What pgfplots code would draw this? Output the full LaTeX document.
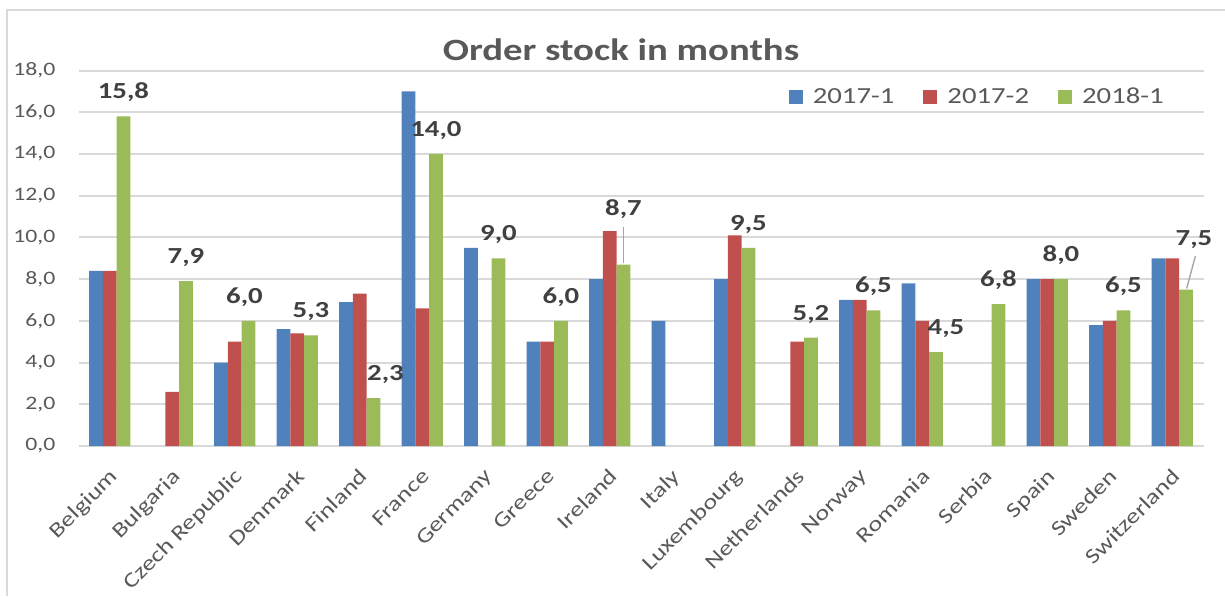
\documentclass[border=0pt]{standalone}
\usepackage{pgfplots}
\pgfplotsset{compat=1.18}
\usepackage{pgfplotstable}
\usepackage{fontspec}
\setmainfont[FakeStretch=1.25]{Carlito}
\definecolor{cblue}{HTML}{4F81BD}
\definecolor{cred}{HTML}{C0504D}
\definecolor{cgreen}{HTML}{9BBB59}
\definecolor{gridc}{HTML}{D9D9D9}
\definecolor{txt}{HTML}{595959}
\definecolor{lbl}{HTML}{404040}
\pgfplotstableread{
x a b c dx dy
0 8.4 8.4 15.8 0 0
1 nan 2.6 7.9 0 0
2 4.0 5.0 6.0 -2 0
3 5.6 5.4 5.3 0 0
4 6.9 7.3 2.3 6 0
5 17.0 6.6 14.0 0 0
6 9.5 nan 9.0 0 0
7 5.0 5.0 6.0 0 0
8 8.0 10.3 8.7 0 16
9 6.0 nan nan 0 0
10 8.0 10.1 9.5 0 0
11 nan 5.0 5.2 0 0
12 7.0 7.0 6.5 0 0
13 7.8 6.0 4.5 5 0
14 nan nan 6.8 0 0
15 8.0 8.0 8.0 0 0
16 5.8 6.0 6.5 0 0
17 9.0 9.0 7.5 4 13.5
}\data
\begin{document}
\begin{tikzpicture}
\useasboundingbox (0,0) rectangle (612.5pt,298pt);
\draw[gridc, line width=1pt] (3.5pt,0) -- (3.5pt,293pt) -- (612.5pt,293pt);
\begin{axis}[
  at={(39.25pt,75pt)}, anchor=south west,
  scale only axis, width=562.5pt, height=187.75pt,
  xmin=-0.5, xmax=17.5, ymin=0, ymax=18,
  ybar=0pt, bar width=6.85pt,
  axis line style={draw=none},
  major tick length=0pt,
  ytick={0,2,...,18},
  ymajorgrids, grid style={gridc, line width=1pt},
  /pgf/number format/assume math mode=true,
  yticklabel={\pgfmathprintnumber[fixed,fixed zerofill,precision=1,use comma]{\tick}},
  yticklabel style={font=\fontsize{9.5pt}{11pt}\selectfont, text=txt, xshift=-8pt},
  xtick={0,...,17},
  xticklabels={Belgium,Bulgaria,Czech Republic,Denmark,Finland,France,Germany,Greece,Ireland,Italy,Luxembourg,Netherlands,Norway,Romania,Serbia,Spain,Sweden,Switzerland},
  xticklabel style={rotate=45, anchor=north east, font=\fontsize{10.5pt}{12.5pt}\selectfont, text=txt, inner sep=1pt, xshift=-7pt, yshift=-6pt},
  legend columns=3,
  legend style={at={(rel axis cs:0.631,0.929)}, anchor=west, draw=none, fill=none, inner sep=0pt,
    font=\fontsize{11.5pt}{13pt}\selectfont, text=txt,
    /tikz/every odd column/.append style={column sep=3pt},
    /tikz/every even column/.append style={column sep=12.5pt}},
  legend image code/.code={\fill[#1] (0pt,-3.5pt) rectangle (7pt,3.5pt);},
  clip=false,
]
\addplot[fill=cblue, draw=none] table[x=x,y=a] {\data};
\addplot[fill=cred, draw=none] table[x=x,y=b] {\data};
\addplot[fill=cgreen, draw=none,
  visualization depends on={\thisrow{dx}\as\dx},
  visualization depends on={\thisrow{dy}\as\dy},
  nodes near coords={\pgfmathprintnumber[fixed,fixed zerofill,precision=1,use comma]{\pgfplotspointmeta}},
  nodes near coords style={anchor=base, xshift={\dx*1pt}, yshift={8.75pt+\dy*1pt}, font=\bfseries\fontsize{11.5pt}{13pt}\selectfont, text=lbl}
] table[x=x,y=c] {\data};
\legend{2017-1,2017-2,2018-1}
\draw[gray!70, line width=0.7pt] (axis cs:8.22,8.75) -- (axis cs:8.22,10.5);
\draw[gray!70, line width=0.7pt] (axis cs:17.23,7.55) -- (axis cs:17.37,9.1);
\end{axis}
\node[font=\bfseries\fontsize{15.5pt}{18pt}\selectfont, text=txt] at (310.5pt,273pt) {Order stock in months};
\end{tikzpicture}
\end{document}
